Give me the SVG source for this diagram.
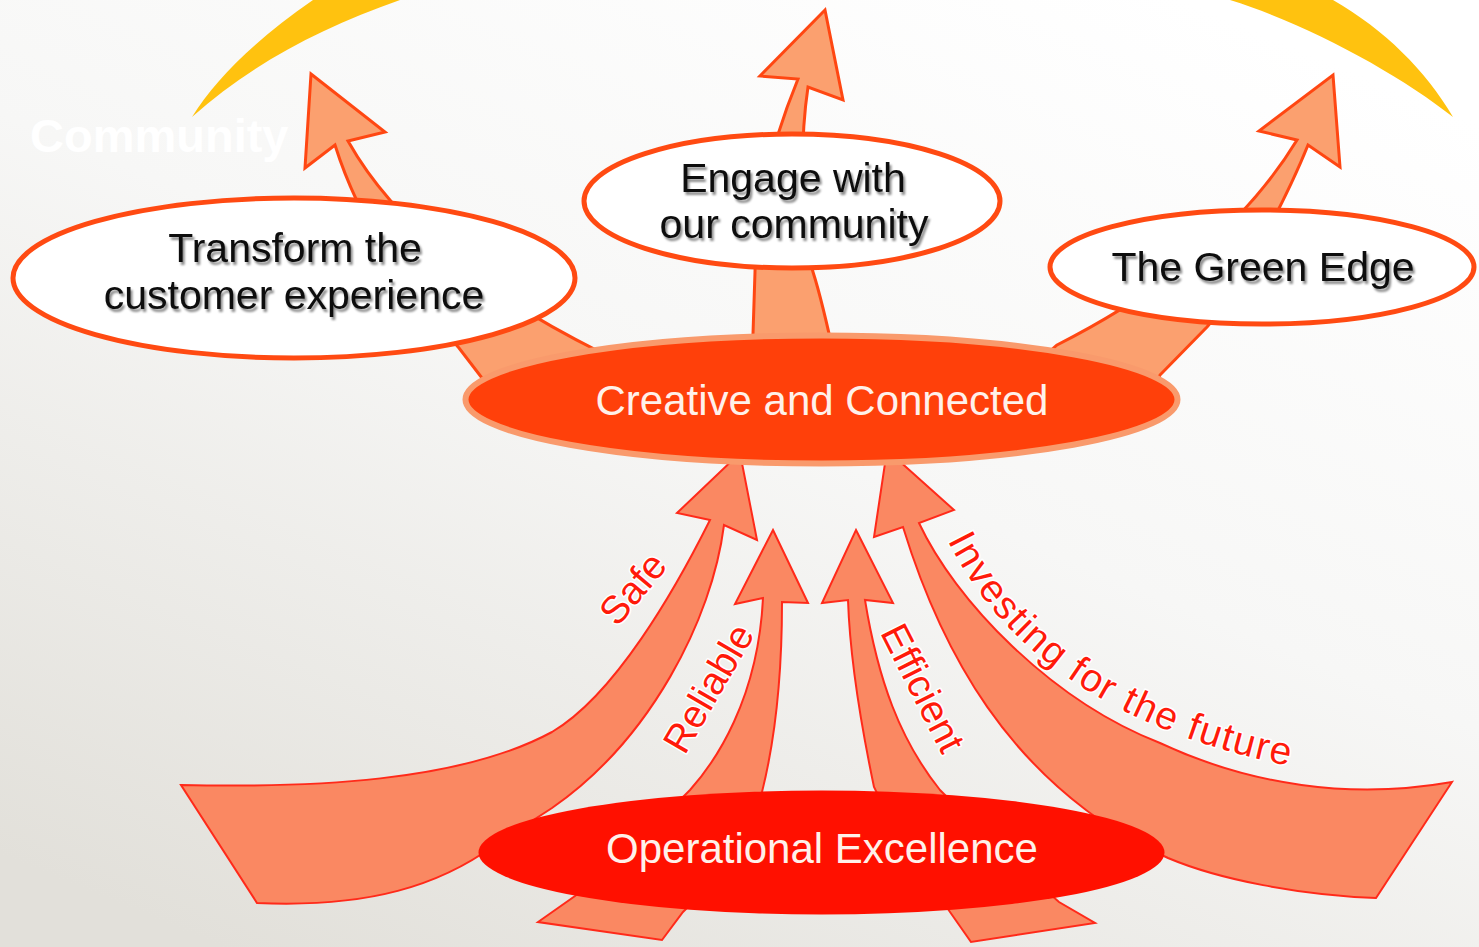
<svg xmlns="http://www.w3.org/2000/svg" width="1479" height="947" viewBox="0 0 1479 947">
<defs>
<linearGradient id="bg" x1="0.8" y1="0" x2="0.15" y2="1">
<stop offset="0" stop-color="#ffffff"/>
<stop offset="0.45" stop-color="#f7f7f6"/>
<stop offset="1" stop-color="#e2e0da"/>
</linearGradient>
<filter id="ts" x="-10%" y="-30%" width="120%" height="160%">
<feDropShadow dx="2" dy="3" stdDeviation="1.2" flood-color="#000" flood-opacity="0.45"/>
</filter>
<path id="invPath" d="M945,535 C995,640 1100,730 1300,768"/>
</defs>
<style>
.top{fill:#FBA06F;stroke:#FF4712;stroke-width:3;stroke-linejoin:miter}
.bot{fill:#FA8862;stroke:#FF2A1A;stroke-width:2;stroke-linejoin:miter}
.wel{fill:#ffffff;stroke:#FF4A12;stroke-width:5}
.blk{font-family:"Liberation Sans",Arial,sans-serif;font-size:41px;fill:#111111;text-anchor:middle}
.wht{font-family:"Liberation Sans",Arial,sans-serif;font-size:42px;fill:#FFF1EA;text-anchor:middle}
.lbl{font-family:"Liberation Sans",Arial,sans-serif;font-size:39px;fill:#FF1A0A;stroke:#ffffff;stroke-width:3;paint-order:stroke;stroke-linejoin:round}
</style>
<rect width="1479" height="947" fill="url(#bg)"/>
<g id="arcs" fill="#FFC20F">
<path d="M192,117 C215,80 255,40 313,0 L400,0 C320,28 250,65 192,117 Z"/>
<path d="M1230,0 L1333,0 C1385,30 1425,70 1453,117 C1400,75 1310,25 1230,0 Z"/>
</g>
<text x="30" y="152" font-family="Liberation Sans, Arial, sans-serif" font-weight="bold" font-size="47" fill="#ffffff">Community</text>
<g id="connectors">
<path class="top" d="M311,74 L385,132 L348,141 Q415,260 600,352 L620,395 L495,395 L459,348 Q368,250 335,145 L305,168 Z"/>
<path class="top" d="M825,10 L843,100 L808,87 C800,140 800,230 813,272 Q822,300 836,365 L752,365 Q754,300 755,272 C756,220 765,160 798,79 L760,76 Z"/>
<path class="top" d="M1333,75 L1340,167 L1308,145 C1290,190 1240,290 1207,327 L1160,375 L1150,400 L1040,400 L1040,360 L1057,345 C1120,313 1230,250 1297,140 L1259,131 Z"/>
<path class="bot" d="M740,453 L757,540 L724,525 C712,620 650,740 552,808 L495,845 C440,885 370,908 257,903 L181,785 C310,788 460,782 552,732 C615,695 675,590 710,520 L677,513 Z"/>
<path class="bot" d="M773,530 L808,603 L782,602 C782,680 775,740 762,792 L705,890 L683,912 L662,940 L538,922 L575,896 L650,830 L690,790 C715,762 758,700 763,598 L735,604 Z"/>
<path class="bot" d="M856,530 L893,603 L865,600 C878,680 900,740 940,790 L1000,850 L1059,902 L1095,923 L971,942 L950,912 L900,840 L874,787 C860,720 850,660 848,600 L822,603 Z"/>
<path class="bot" d="M887,450 L954,510 L919,523 C955,600 1050,700 1160,743 C1250,785 1350,800 1452,782 L1376,898 C1300,895 1220,880 1168,858 L1120,835 L1086,810 C1020,760 950,680 903,527 L874,537 Z"/>
</g>
<g id="node-creative">
<ellipse cx="821.5" cy="399.5" rx="356" ry="64" fill="#FF400A" stroke="#F99A6C" stroke-width="6"/>
<text class="wht" x="822" y="415" font-size="43">Creative and Connected</text>
</g>
<g id="node-transform">
<ellipse class="wel" cx="294" cy="278" rx="281" ry="80"/>
<text class="blk" x="295" y="262" filter="url(#ts)">Transform the</text>
<text class="blk" x="294" y="309" filter="url(#ts)">customer experience</text>
</g>
<g id="node-engage">
<ellipse class="wel" cx="792" cy="201" rx="208" ry="67"/>
<text class="blk" x="793" y="192" filter="url(#ts)">Engage with</text>
<text class="blk" x="794" y="238" filter="url(#ts)">our community</text>
</g>
<g id="node-green">
<ellipse class="wel" cx="1262" cy="267" rx="212" ry="57"/>
<text class="blk" x="1263" y="281" filter="url(#ts)">The Green Edge</text>
</g>
<g id="node-operational">
<ellipse cx="821.5" cy="852.5" rx="343" ry="62" fill="#FF1000"/>
<text class="wht" x="822" y="863">Operational Excellence</text>
</g>
<g id="labels">
<text class="lbl" text-anchor="middle" font-size="40" transform="translate(643,597) rotate(-50)">Safe</text>
<text class="lbl" text-anchor="middle" transform="translate(720,695) rotate(-60)">Reliable</text>
<text class="lbl" text-anchor="middle" transform="translate(911,694) rotate(63)">Efficient</text>
<text class="lbl"><textPath href="#invPath" startOffset="6" textLength="424" lengthAdjust="spacing">Investing for the future</textPath></text>
</g>
</svg>
